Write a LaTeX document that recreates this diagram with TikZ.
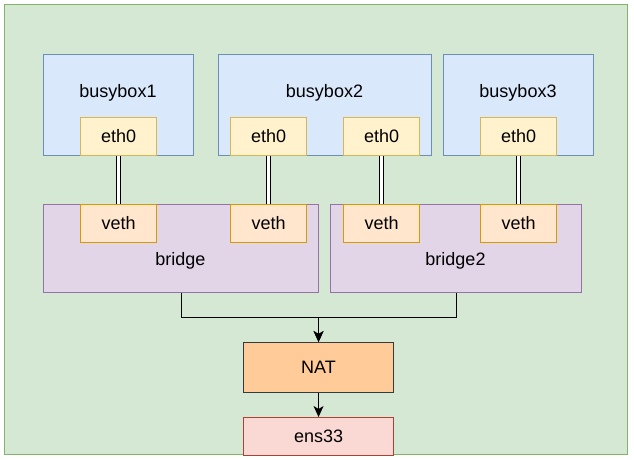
\documentclass[tikz,border=0pt]{standalone}
\usepackage{fontspec}
\setmainfont{Liberation Sans}
\usetikzlibrary{arrows.meta}

\definecolor{hostfill}{HTML}{D5E8D4}
\definecolor{hostline}{HTML}{82B366}
\definecolor{ctfill}{HTML}{DAE8FC}
\definecolor{ctline}{HTML}{6C8EBF}
\definecolor{ethfill}{HTML}{FFF2CC}
\definecolor{ethline}{HTML}{D6B656}
\definecolor{vethfill}{HTML}{FFE6CC}
\definecolor{vethline}{HTML}{D79B00}
\definecolor{brfill}{HTML}{E1D5E7}
\definecolor{brline}{HTML}{9673A6}
\definecolor{natfill}{HTML}{FFCC99}
\definecolor{natline}{HTML}{36393D}
\definecolor{ensfill}{HTML}{FAD9D5}
\definecolor{ensline}{HTML}{AE4132}

\begin{document}
\begin{tikzpicture}[
  x=1pt,y=-1pt,
  every node/.style={font=\fontsize{18}{20}\selectfont,inner sep=0pt},
  frame/.style={draw,line width=1.1pt,anchor=north west},
  host/.style={frame,fill=hostfill,draw=hostline},
  ctbox/.style={frame,fill=ctfill,draw=ctline,minimum height=101},
  brbox/.style={frame,fill=brfill,draw=brline,minimum height=88},
  eth/.style={frame,fill=ethfill,draw=ethline,minimum width=76,minimum height=38},
  veth/.style={frame,fill=vethfill,draw=vethline,minimum width=76,minimum height=38},
  link/.style={double,double distance=3.5pt,line width=0.9pt},
  flow/.style={line width=1pt,-{Stealth[length=11pt,width=10pt,inset=3pt]}},
]
\useasboundingbox (0,0) rectangle (634,460);

% host
\node[host,minimum width=623,minimum height=450] (env) at (4,4) {};

% containers
\node[ctbox,minimum width=150] (bb1) at (43,54) {};
\node[ctbox,minimum width=213] (bb2) at (218,54) {};
\node[ctbox,minimum width=150] (bb3) at (443,54) {};
\node (bb1txt) at (118,93) {busybox1};
\node (bb2txt) at (324.5,93) {busybox2};
\node (bb3txt) at (518,93) {busybox3};

\node[eth] (e1) at (80,117) {eth0};
\node[eth] (e2) at (230,117) {eth0};
\node[eth] (e3) at (343,117) {eth0};
\node[eth] (e4) at (480,117) {eth0};

% bridges
\node[brbox,minimum width=275] (br1) at (43,204) {};
\node[brbox,minimum width=251] (br2) at (330,204) {};
\node (br1txt) at (180.5,261) {bridge};
\node (br2txt) at (455.5,261) {bridge2};

\node[veth] (v1) at (80,204) {veth};
\node[veth] (v2) at (230,204) {veth};
\node[veth] (v3) at (343,204) {veth};
\node[veth] (v4) at (480,204) {veth};

% nat and uplink
\node[frame,fill=natfill,draw=natline,minimum width=150,minimum height=50] (nat) at (243,342) {NAT};
\node[frame,fill=ensfill,draw=ensline,minimum width=150,minimum height=38] (ens) at (243,417) {ens33};

% veth pairs
\foreach \i in {1,...,4}
  \draw[link] (e\i.south) -- (v\i.north);

\coordinate (join) at (nat.north |- 0,317);
\draw[flow] (br1.south) |- (join) -- (nat.north);
\draw[flow] (br2.south) |- (join) -- (nat.north);
\draw[flow] (nat.south) -- (ens.north);

\end{tikzpicture}
\end{document}
